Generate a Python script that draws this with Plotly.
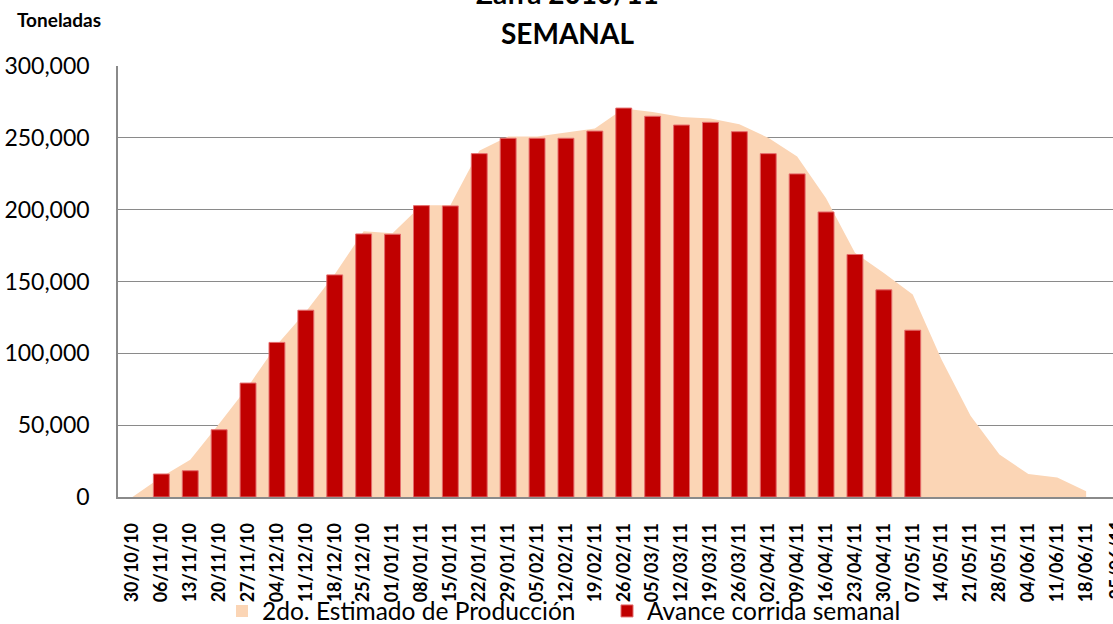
import plotly.graph_objects as go

categories = ['30/10/10', '06/11/10', '13/11/10', '20/11/10', '27/11/10', '04/12/10', '11/12/10',
              '18/12/10', '25/12/10', '01/01/11', '08/01/11', '15/01/11', '22/01/11', '29/01/11',
              '05/02/11', '12/02/11', '19/02/11', '26/02/11', '05/03/11', '12/03/11', '19/03/11',
              '26/03/11', '02/04/11', '09/04/11', '16/04/11', '23/04/11', '30/04/11', '07/05/11',
              '14/05/11', '21/05/11', '28/05/11', '04/06/11', '11/06/11', '18/06/11', '25/06/11']

estimado = [0, 14000, 26000, 51000, 77000, 106000, 129000, 155000, 185000, 183500, 203000,
            203000, 241000, 251000, 251000, 253500, 256500, 270500, 268000, 264500, 263500,
            259500, 250000, 237000, 208000, 170000, 156000, 141000, 95500, 56500, 29500,
            16000, 13500, 4000, None]

avance = [None, 16000, 18300, 46800, 79300, 107600, 130000, 154600, 183100, 182900, 202800,
          202600, 239000, 249700, 249700, 249700, 254700, 270700, 265000, 258900, 260800,
          254300, 239000, 224900, 198400, 168800, 144200, 116100, None, None, None,
          None, None, None, None]

yticks = [0, 50000, 100000, 150000, 200000, 250000, 300000]

AREA_COLOR = '#FBD5B5'
BAR_COLOR = '#C00000'

W, H = 1113, 624
L, T, B = 118, 66, 127
plot_w = W - L
step = 28.9
xmax = -0.5 + plot_w / step
plot_h = H - T - B

fig = go.Figure()
fig.add_trace(go.Scatter(
    x=categories, y=estimado, mode='lines', fill='tozeroy',
    line=dict(width=0, color=AREA_COLOR), fillcolor=AREA_COLOR,
    name='2do. Estimado de Producción', showlegend=False, yaxis='y'))
# legend entry (square swatch) for the area series
fig.add_trace(go.Bar(
    x=[categories[0]], y=[None], marker=dict(color=AREA_COLOR, line=dict(width=0)),
    name='2do. Estimado de Producción', yaxis='y'))
fig.add_trace(go.Bar(
    x=categories, y=avance, width=0.55,
    marker=dict(color=BAR_COLOR, line=dict(color='#E46C6C', width=1)),
    name='Avance corrida semanal', yaxis='y2'))

fig.update_layout(
    width=W, height=H,
    margin=dict(l=L, r=0, t=T, b=B, pad=0, autoexpand=False),
    plot_bgcolor='white', paper_bgcolor='white',
    showlegend=True, barmode='overlay',
    legend=dict(orientation='h', x=(222 - L) / plot_w, xanchor='left',
                y=-(611 - (H - B)) / plot_h, yanchor='middle',
                font=dict(family='Lato', size=24.5, color='#000000'),
                entrywidth=340, entrywidthmode='pixels', traceorder='normal',
                bgcolor='rgba(0,0,0,0)'),
)

fig.update_layout(
    xaxis=dict(
        type='category', range=[-0.5, xmax], automargin=False,
        tickangle=-90, ticks='', showgrid=False,
        showline=True, linecolor='#8A8A8A', linewidth=1.5,
        tickfont=dict(family='Lato', size=18, color='#000000', weight='bold'),
        ticklabelstandoff=17,
    ),
    yaxis=dict(
        range=[0, 300000], tickvals=yticks, tickformat=',', automargin=False,
        showgrid=True, gridcolor='#8A8A8A', gridwidth=1.3,
        showline=True, linecolor='#8A8A8A', linewidth=1.5,
        ticks='', zeroline=False,
        tickfont=dict(family='Lato', size=23, color='#000000'),
        ticklabelstandoff=22,
    ),
    yaxis2=dict(
        range=[0, 300000], overlaying='y', side='left', automargin=False,
        showgrid=False, showline=False, showticklabels=False, zeroline=False, ticks='',
    ),
)

def px_x(xp):
    return (xp - L) / plot_w

def px_y(yp):
    return ((H - B) - yp) / plot_h

fig.add_annotation(text='<b>Toneladas</b>', xref='paper', yref='paper',
                   x=px_x(59), y=px_y(20), xanchor='center', yanchor='middle',
                   showarrow=False, font=dict(family='Lato', size=19, color='#000000'))
fig.add_annotation(text='<b>SEMANAL</b>', xref='paper', yref='paper',
                   x=px_x(567), y=px_y(33), xanchor='center', yanchor='middle',
                   showarrow=False, font=dict(family='Lato', size=28, color='#000000'))
fig.add_annotation(text='<b>Zafra 2010/11</b>', xref='paper', yref='paper',
                   x=px_x(567), y=px_y(-7), xanchor='center', yanchor='middle',
                   showarrow=False, font=dict(family='Lato', size=28, color='#000000'))
# partially visible last category label
fig.add_annotation(text='<b>' + categories[-1] + '</b>', xref='paper', yref='paper',
                   x=(34 + 0.5) / (xmax + 0.5), y=px_y(519), xanchor='center', yanchor='top',
                   textangle=-90, showarrow=False,
                   font=dict(family='Lato', size=18, color='#000000'))

fig.write_html('out.html', config={'displayModeBar': False},
               post_script="document.body.style.margin='0px';")
